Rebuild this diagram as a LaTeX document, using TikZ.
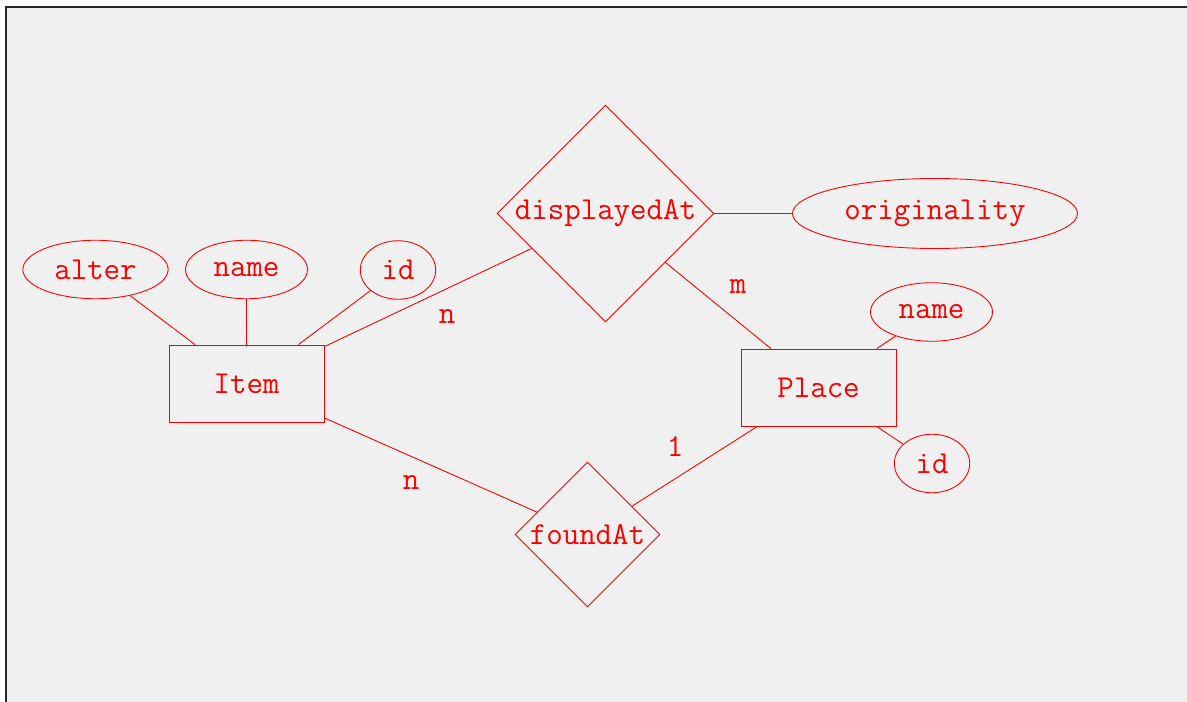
\documentclass[tikz,border=0pt]{standalone}
\usetikzlibrary{shapes}
\usetikzlibrary{shapes.geometric}
\definecolor{bggray}{RGB}{240,240,240}
\tikzset{
    enode/.style = {rectangle, draw=red, line width=0.5pt, minimum width=3.1cm, minimum height=1.54cm, align=center, font=\ttfamily\fontsize{18.2}{22}\selectfont, text=red},
    anode/.style = {ellipse, draw=red, line width=0.5pt, inner xsep=5.8pt, inner ysep=1pt, minimum height=1.17cm, align=center, font=\ttfamily\fontsize{18.2}{22}\selectfont, text=red},
    rnode/.style = {diamond, draw=red, line width=0.5pt, inner sep=0pt, align=center, font=\ttfamily\fontsize{18.2}{22}\selectfont, text=red},
    lbl/.style = {inner sep=0pt, font=\ttfamily\fontsize{18.2}{22}\selectfont, text=red},
    edgen/.style = {-, line width=0.5pt, red},
    framen/.style = {-, line width=1pt, black!85}
}
\begin{document}
\begin{tikzpicture}
%
\path[use as bounding box] (0,0) rectangle (23.74,-14.04);
\fill[bggray] (0.12,-0.14) rectangle (23.74,-14.04);
\draw[framen] (0.12,-14.04) -- (0.12,-0.14) -- (23.74,-0.14);
%
\node[enode] at (4.93,-7.67) (item) {Item};
\node[enode] at (16.37,-7.75) (place) {Place};
\node[rnode, minimum size=4.34cm] at (12.11,-4.27) (displayed) {displayedAt};
\node[rnode, minimum size=2.9cm] at (11.75,-10.69) (found) {foundAt};
%
\node[anode] at (1.91,-5.39) (alter) {alter};
\node[anode] at (4.93,-5.39) (iname) {name};
\node[anode] at (7.96,-5.40) (iid) {id};
\node[anode, minimum height=1.4cm] at (18.70,-4.27) (orig) {originality};
\node[anode] at (18.63,-6.24) (pname) {name};
\node[anode] at (18.64,-9.27) (pid) {id};
%
\node[lbl] at (8.94,-6.34) (n1) {n};
\node[lbl] at (14.76,-5.74) (m1) {m};
\node[lbl] at (8.22,-9.66) (n2) {n};
\node[lbl] at (13.50,-8.94) (one) {1};
%
\draw[edgen] (item) -- (alter);
\draw[edgen] (item) -- (iname);
\draw[edgen] (item) -- (iid);
\draw[edgen] (item) -- (displayed);
\draw[edgen] (item) -- (found);
\draw[edgen] (place) -- (displayed);
\draw[edgen] (place) -- (found);
\draw[edgen] (place) -- (pname);
\draw[edgen] (place) -- (pid);
\draw[edgen] (displayed) -- (orig);

\end{tikzpicture}
\end{document}
